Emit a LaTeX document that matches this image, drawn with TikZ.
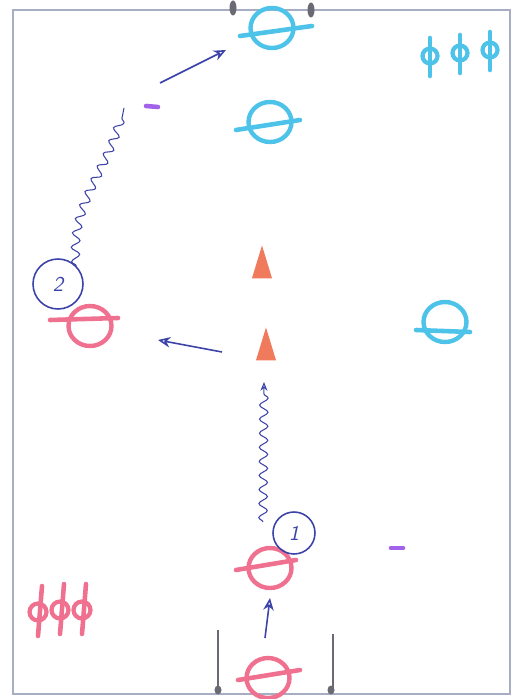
\documentclass[tikz,border=0pt]{standalone}
\usetikzlibrary{positioning, arrows.meta, shapes.geometric, decorations.pathmorphing}
\definecolor{cField}{HTML}{A7AEC4}
\definecolor{cPost}{HTML}{6A6A74}
\definecolor{cAtt}{HTML}{F0708F}
\definecolor{cDef}{HTML}{4EC3EA}
\definecolor{cInk}{HTML}{3C43A8}
\definecolor{cCone}{HTML}{F07A5C}
\definecolor{cMark}{HTML}{A262EA}
\tikzset{
  player/.style={
    ellipse, draw=#1, line width=2.5pt,
    minimum width=0.86cm, minimum height=0.8cm, inner sep=0pt
  },
  bar/.style={
    draw=#1, line width=2.6pt, line cap=round
  },
  subst/.style={
    circle, draw=#1, line width=2.4pt,
    minimum size=0.34cm, inner sep=0pt
  },
  cone/.style={
    isosceles triangle, isosceles triangle apex angle=34,
    shape border rotate=90, fill=cCone,
    minimum height=0.66cm, inner sep=0pt
  },
  dashmark/.style={
    draw=cMark, line width=2.6pt, line cap=round
  },
  post/.style={
    ellipse, fill=cPost, minimum width=0.14cm,
    minimum height=0.3cm, inner sep=0pt
  },
  numtag/.style={
    ellipse, draw=cInk, line width=0.9pt, minimum width=#1,
    minimum height=#1, inner sep=0pt, text=cInk, font=\sffamily\itshape\large
  },
  pass/.style={
    -{Stealth[length=7pt, width=6pt, open]}, draw=cInk, line width=0.9pt
  },
  dribble/.style={
    draw=cInk, line width=0.6pt, decorate,
    decoration={snake, amplitude=2.4pt, segment length=8pt, post length=4pt}
  },
}

\begin{document}
\begin{tikzpicture}[x=0.02cm, y=-0.02cm]
\useasboundingbox (0,0) rectangle (520,699);

% field and goals
\draw[cField, line width=1.1pt] (13,10) rectangle (510,694);
\node[post] (gtl) at (233,8) {};
\node[post] (gtr) at (311,10) {};
\draw[cPost, line width=1.4pt] (218,630) -- (218,690);
\draw[cPost, line width=1.4pt] (333,634) -- (333,690);
\node[post, minimum height=0.18cm] (gbl) at (218,690) {};
\node[post, minimum height=0.18cm] (gbr) at (331,690) {};

% defenders
\node[player=cDef] (def1) at (272,28) {};
\draw[bar=cDef] (240,36) -- (312,26);
\node[player=cDef] (def2) at (270,122) {};
\draw[bar=cDef] (236,130) -- (300,120);
\node[player=cDef] (def3) at (445,322) {};
\draw[bar=cDef] (416,330) -- (470,332);

% attackers
\node[player=cAtt] (att1) at (90,326) {};
\draw[bar=cAtt] (50,320) -- (118,318);
\node[player=cAtt] (att2) at (270,568) {};
\draw[bar=cAtt] (236,570) -- (296,560);
\node[player=cAtt] (att3) at (268,678) {};
\draw[bar=cAtt] (238,680) -- (300,670);

% substitutes
\foreach \x/\y in {430/56, 460/53, 490/50} {
  \node[subst=cDef, minimum size=0.3cm] at (\x,\y) {};
  \draw[bar=cDef] (\x,\y-18) -- (\x,\y+20);
}
\foreach \x/\y in {38/612, 60/610, 82/610} {
  \node[subst=cAtt] at (\x,\y) {};
  \draw[bar=cAtt] (\x+4,\y-26) -- (\x,\y+24);
}

% cones and marks
\node[cone] (cone1) at (262,271) {};
\node[cone] (cone2) at (266,353) {};
\draw[dashmark] (146,106) -- (158,107);
\draw[dashmark] (391,548) -- (403,548);

% tags
\node[numtag=1.0cm] (tag2) at (58,284) {2};
\node[numtag=0.84cm] (tag1) at (294,533) {1};

% passes and runs
\coordinate (p1s) at (160,83);
\coordinate (p1e) at (226,50);
\coordinate (p2s) at (222,352);
\coordinate (p2e) at (158,340);
\coordinate (p3s) at (265,638);
\coordinate (p3e) at (270,598);
\coordinate (r1e) at (124,108);
\coordinate (r2s) at (263,522);
\coordinate (r2e) at (264,382);
\draw[pass] (p1s) -- (p1e);
\draw[pass] (p2s) -- (p2e);
\draw[pass] (p3s) -- (p3e);
\draw[dribble] (tag2.north east) to[out=95, in=-100] (r1e);
\draw[dribble, -{Stealth[length=5pt, width=4pt, open]}] (r2s) -- (r2e);

\end{tikzpicture}
\end{document}
